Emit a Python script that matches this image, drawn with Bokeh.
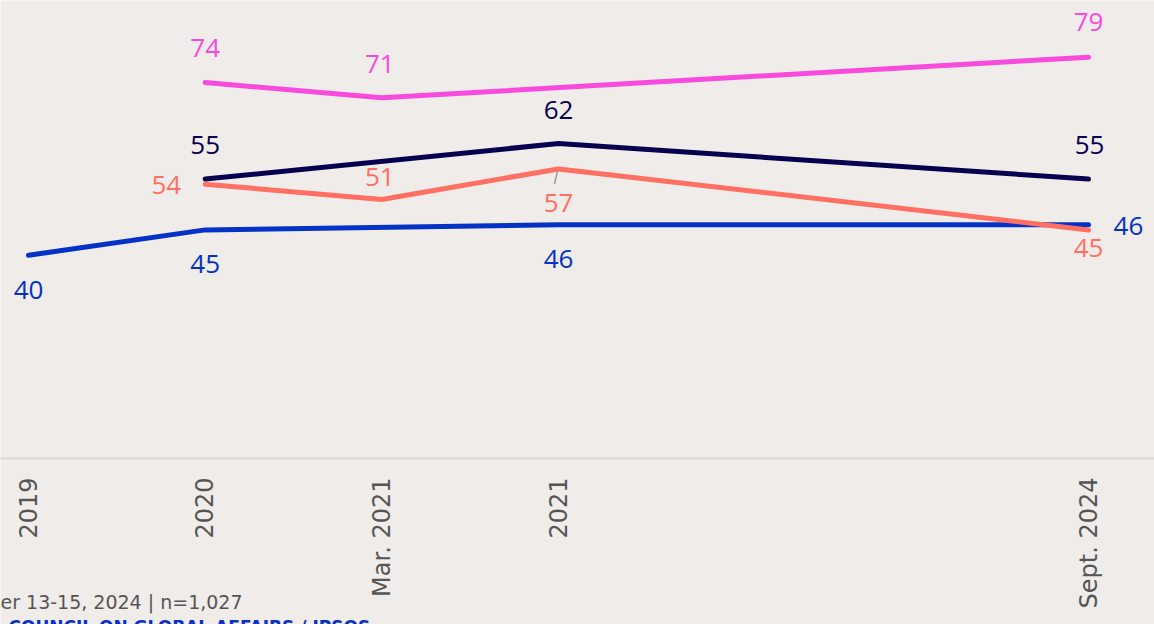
import math
from bokeh.plotting import figure
from bokeh.models import Range1d, FixedTicker, ColumnDataSource, Label
from bokeh.core.properties import value
from bokeh.embed import file_html
from bokeh.resources import INLINE

# ---- data ----
x_labels = ["2019", "2020", "Mar. 2021", "2021", "Sept. 2024"]
x_index = [0, 1, 2, 3, 6]          # spacing of survey waves on the axis
blue = [40, 45, None, 46, 46]
navy = [None, 55, None, 62, 55]
pink = [None, 74, 71, None, 79]
coral = [None, 54, 51, 57, 45]
note_text = "er 13-15, 2024 | n=1,027"
source_text = "COUNCIL ON GLOBAL AFFAIRS / IPSOS"

# ---- styles ----
BG = "#F0ECE9"
C_BLUE = "#0432C6"
C_NAVY = "#06004F"
C_PINK = "#F84ADC"
C_CORAL = "#FF6F63"
FONT = "Open Sans"
AXFONT = "DejaVu Sans"

W, H = 1154, 624
BASE = 458      # canvas y of zero line
LEFT0 = 28      # canvas x of first wave
PX_X = 176.67   # px per x unit
PX_Y = 5.08     # px per y unit
x0 = -LEFT0 / PX_X
x1 = x0 + W / PX_X
y_top = BASE / PX_Y
y_bot = -(H - BASE) / PX_Y

p = figure(width=W, height=H, output_backend="svg", toolbar_location=None,
           x_range=Range1d(x0, x1), y_range=Range1d(y_bot, y_top),
           min_border=0)
p.background_fill_color = BG
p.border_fill_color = BG
p.outline_line_color = None
p.grid.visible = False
p.yaxis.visible = False

ax = p.xaxis[0]
ax.fixed_location = 0
ax.ticker = FixedTicker(ticks=x_index)
ax.major_label_overrides = {xi: lab for xi, lab in zip(x_index, x_labels)}
ax.major_label_orientation = math.pi / 2
ax.major_tick_line_color = None
ax.minor_tick_line_color = None
ax.major_tick_out = 0
ax.major_tick_in = 0
ax.major_label_standoff = 19
ax.axis_line_color = "#D9D6D3"
ax.axis_line_width = 2
ax.major_label_text_font = AXFONT
ax.major_label_text_font_size = "24px"
ax.major_label_text_color = "#555555"

def pts(series):
    xs = [x for x, v in zip(x_index, series) if v is not None]
    ys = [v for v in series if v is not None]
    return xs, ys

series = [(blue, C_BLUE), (coral, C_CORAL), (navy, C_NAVY), (pink, C_PINK)]
for s, c in series:
    xs, ys = pts(s)
    p.line(xs, ys, line_color=c, line_width=5, line_cap="round", line_join="round")

# label placement (screen offsets, px; positive y = down)
offsets = {
    "blue": [(0, 35, "center"), (0, 34, "center"), None, (0, 34, "center"), (25, 1, "left")],
    "navy": [None, (0, -34, "center"), None, (0, -34, "center"), (1, -34, "center")],
    "pink": [None, (0, -35, "center"), (-2, -34, "center"), None, (0, -35, "center")],
    "coral": [None, (-24, 1, "right"), (-2, -22, "center"), (0, 34, "center"), (0, 18, "center")],
}
data = {"blue": (blue, C_BLUE), "navy": (navy, C_NAVY), "pink": (pink, C_PINK), "coral": (coral, C_CORAL)}
lx, ly, lt, lc, lxo, lyo, la = [], [], [], [], [], [], []
for name, (s, c) in data.items():
    for xi, v, off in zip(x_index, s, offsets[name]):
        if v is None:
            continue
        lx.append(xi); ly.append(v); lt.append(str(v)); lc.append(c)
        lxo.append(off[0]); lyo.append(off[1]); la.append(off[2])
src = ColumnDataSource(dict(x=lx, y=ly, text=lt, color=lc, xo=lxo, yo=lyo, align=la))
p.text(x="x", y="y", text="text", source=src, text_color="color",
       x_offset="xo", y_offset="yo", text_align="align", text_baseline="middle",
       text_font=value(FONT), text_font_size="26px")

# leader line for coral 57
cx, cy = x_index[3], coral[3]
p.segment(x0=[cx - 1 / PX_X], y0=[cy - 2 / PX_Y], x1=[cx - 4 / PX_X], y1=[cy - 15 / PX_Y],
          line_color="#9A9A9A", line_width=1.5)

p.add_layout(Label(x=x0, y=(BASE - 601) / PX_Y, text=note_text,
                   text_font=AXFONT, text_font_size="19px", text_color="#555555",
                   text_baseline="middle", text_align="left"))
p.add_layout(Label(x=x0 + 8 / PX_X, y=(BASE - 616) / PX_Y, text=source_text,
                   text_font=AXFONT, text_font_size="17px", text_color="#0A2FC4",
                   text_font_style="bold", text_baseline="top", text_align="left"))

open("out.html", "w").write(file_html(p, INLINE))
